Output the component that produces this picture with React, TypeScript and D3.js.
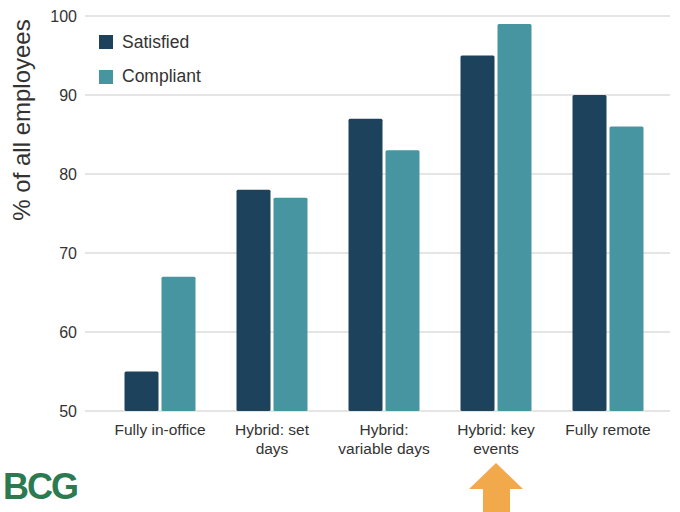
import React from "react";
import * as d3 from "d3";

const categories = [
  ["Fully in-office"],
  ["Hybrid: set", "days"],
  ["Hybrid:", "variable days"],
  ["Hybrid: key", "events"],
  ["Fully remote"],
];
const seriesNames = ["Satisfied", "Compliant"];
const satisfied = [55, 78, 87, 95, 90];
const compliant = [67, 77, 83, 99, 86];
const yTicks = [50, 60, 70, 80, 90, 100];
const colors = ["#1d425b", "#4695a0"];

export default function App() {
  const W = 680, H = 512;
  const x = d3.scaleBand<number>().domain(d3.range(categories.length)).range([104, 664]).padding(0);
  const y = d3.scaleLinear().domain([50, 100]).range([411, 16]);
  const barW = 34, gap = 3;
  const data = [satisfied, compliant];
  const font = "'Liberation Sans', Arial, sans-serif";
  const cxArrow = (x(3) as number) + x.bandwidth() / 2;
  return (
    <svg width={W} height={H} style={{ position: "absolute", left: 0, top: 0, background: "#fff" }} fontFamily={font}>
      {yTicks.map((t) => (
        <g key={t}>
          <line x1={85} x2={670} y1={y(t)} y2={y(t)} stroke="#dcdcdc" strokeWidth={1.5} />
          <text x={77} y={y(t)} dy="0.35em" textAnchor="end" fontSize={16} fill="#333">{t}</text>
        </g>
      ))}
      {categories.map((c, i) => {
        const cx = (x(i) as number) + x.bandwidth() / 2;
        return (
          <g key={i}>
            {data.map((s, j) => {
              const bx = j === 0 ? cx - gap / 2 - barW : cx + gap / 2;
              return (
                <rect key={j} x={bx} y={y(s[i])} width={barW} height={y(50) - y(s[i])} fill={colors[j]} rx={1.5} />
              );
            })}
            {c.map((line, k) => (
              <text key={k} x={cx} y={435 + k * 19} textAnchor="middle" fontSize={15.5} fill="#333">{line}</text>
            ))}
          </g>
        );
      })}
      {seriesNames.map((n, j) => (
        <g key={n}>
          <rect x={99} y={35 + j * 35} width={14} height={14} fill={colors[j]} />
          <text x={122} y={48 + j * 34} fontSize={17.5} fill="#333">{n}</text>
        </g>
      ))}
      <text transform={`translate(30,120) rotate(-90)`} textAnchor="middle" fontSize={24} fill="#333">% of all employees</text>
      <text x={3} y={499} fontSize={36} fontWeight="bold" fill="#2c7a50" letterSpacing={-2} fontFamily="'Liberation Sans', Arial, sans-serif">BCG</text>
      <path
        d={`M${cxArrow} 463 L${cxArrow + 27} 489 L${cxArrow + 14} 489 L${cxArrow + 14} 512 L${cxArrow - 13} 512 L${cxArrow - 13} 489 L${cxArrow - 27} 489 Z`}
        fill="#f1a94b"
      />
    </svg>
  );
}
